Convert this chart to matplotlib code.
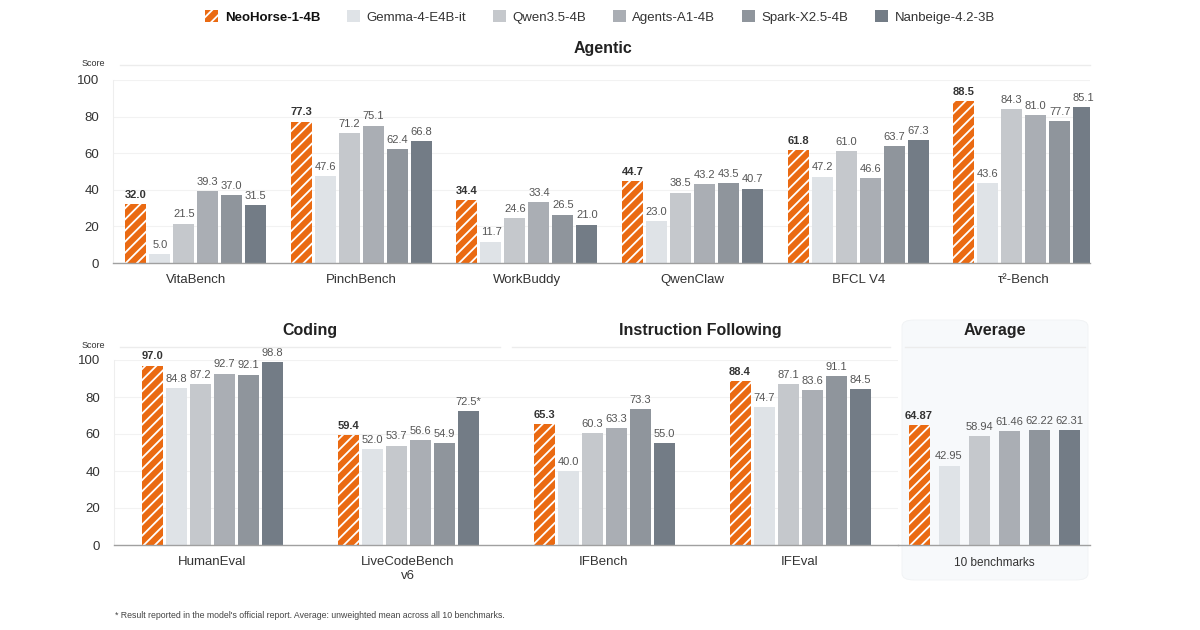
import matplotlib
matplotlib.use("Agg")
import matplotlib.pyplot as plt
from matplotlib.patches import Patch, FancyBboxPatch
from matplotlib.lines import Line2D
import numpy as np

plt.rcParams['font.family'] = ['Liberation Sans', 'DejaVu Sans']
plt.rcParams['hatch.color'] = 'white'
plt.rcParams['hatch.linewidth'] = 1.3

# Modelli e colori
models = ["NeoHorse-1-4B", "Gemma-4-E4B-it", "Qwen3.5-4B", "Agents-A1-4B", "Spark-X2.5-4B", "Nanbeige-4.2-3B"]
colors = ["#EA6A12", "#dfe3e7", "#c5c8cc", "#aaaeb4", "#8f959c", "#737c86"]

# Agentic
agentic_labels = ["VitaBench", "PinchBench", "WorkBuddy", "QwenClaw", "BFCL V4", "τ²-Bench"]
agentic_scores = [
    [32.0, 77.3, 34.4, 44.7, 61.8, 88.5],
    [5.0, 47.6, 11.7, 23.0, 47.2, 43.6],
    [21.5, 71.2, 24.6, 38.5, 61.0, 84.3],
    [39.3, 75.1, 33.4, 43.2, 46.6, 81.0],
    [37.0, 62.4, 26.5, 43.5, 63.7, 77.7],
    [31.5, 66.8, 21.0, 40.7, 67.3, 85.1],
]

# Coding + Instruction Following
bottom_labels = ["HumanEval", "LiveCodeBench\nv6", "IFBench", "IFEval"]
bottom_scores = [
    [97.0, 59.4, 65.3, 88.4],
    [84.8, 52.0, 40.0, 74.7],
    [87.2, 53.7, 60.3, 87.1],
    [92.7, 56.6, 63.3, 83.6],
    [92.1, 54.9, 73.3, 91.1],
    [98.8, 72.5, 55.0, 84.5],
]
# valori riportati nel report ufficiale (asterisco)
starred = {(5, 1)}

# Media
avg_labels = ["10 benchmarks"]
avg_scores = [64.87, 42.95, 58.94, 61.46, 62.22, 62.31]

W, H = 1200, 630
fig = plt.figure(figsize=(12, 6.3), dpi=100)


def fx(px):
    return px / W


def fy(py):
    return 1 - py / H


def style_axes(ax, show_y=True):
    ax.set_ylim(0, 100)
    for s in ["top", "right"]:
        ax.spines[s].set_visible(False)
    ax.spines["left"].set_color("#eeeeee")
    ax.spines["bottom"].set_color("#a0a0a0")
    ax.spines["bottom"].set_linewidth(1.0)
    ax.set_yticks([0, 20, 40, 60, 80, 100])
    ax.tick_params(axis="y", length=0, labelsize=9.5, labelcolor="#333333", pad=10)
    ax.tick_params(axis="x", length=0, labelsize=9.5, labelcolor="#333333", pad=8)
    ax.grid(axis="y", color="#f2f2f2", linewidth=0.8)
    ax.set_axisbelow(True)
    ax.set_facecolor("none")
    if not show_y:
        ax.spines["left"].set_visible(False)
        ax.set_yticks([])


def draw_groups(ax, labels, scores, slot, width, fmt="%.1f", star=set(), fs=8):
    x = np.arange(len(labels))
    n = len(models)
    for i in range(n):
        pos = x + (i - (n - 1) / 2) * slot
        vals = scores[i]
        if i == 0:
            bars = ax.bar(pos, vals, width, color=colors[i], edgecolor="white",
                          linewidth=0, hatch="///", zorder=2)
        else:
            bars = ax.bar(pos, vals, width, color=colors[i], linewidth=0, zorder=2)
        for j, b in enumerate(bars):
            v = vals[j]
            txt = fmt % v
            if (i, j) in star:
                txt += "*"
            ax.annotate(txt, (b.get_x() + b.get_width() / 2, v), xytext=(0, 3),
                        textcoords="offset points", ha="center", va="bottom",
                        fontsize=fs, color="#333333" if i == 0 else "#555555",
                        fontweight="bold" if i == 0 else "normal", clip_on=False)
    ax.set_xticks(x)
    ax.set_xticklabels(labels)


# sfondo del pannello Media (disegnato sotto gli assi)
bg = FancyBboxPatch((fx(902), fy(580)), fx(186), (580 - 320) / H,
                    boxstyle="round,pad=0,rounding_size=0.01",
                    transform=fig.transFigure, facecolor="#f7f9fb",
                    edgecolor="#f0f2f4", linewidth=0.6, zorder=-5)
fig.patches.append(bg)

# --- pannello Agentic ---
ax1 = fig.add_axes([fx(113), fy(263), fx(977), 183 / H])
style_axes(ax1)
draw_groups(ax1, agentic_labels, agentic_scores, 24 / 165.6, 21 / 165.6)
ax1.set_xlim(-0.5, 5.4)

# --- pannello Coding / IF ---
ax2 = fig.add_axes([fx(114), fy(545), fx(784), 185 / H])
style_axes(ax2)
draw_groups(ax2, bottom_labels, bottom_scores, 24 / 196, 21 / 196, star=starred)
ax2.set_xlim(-0.5, 3.5)

# --- pannello Media ---
ax3 = fig.add_axes([fx(898), fy(545), fx(192), 185 / H])
ax3.set_zorder(2)
style_axes(ax3, show_y=False)
draw_groups(ax3, avg_labels, [[v] for v in avg_scores], 30 / 192, 21 / 192, fmt="%.2f", fs=8)
ax3.set_xlim(-0.5, 0.5)
ax3.tick_params(axis="x", labelsize=8.5, pad=9)

# Titoli di sezione e linee
def section(title, cx, cy, x0, x1, ly):
    fig.text(fx(cx), fy(cy), title, ha="center", va="center", fontsize=11.5,
             fontweight="bold", color="#222222")
    fig.add_artist(Line2D([fx(x0), fx(x1)], [fy(ly), fy(ly)], color="#ececec",
                          linewidth=1, transform=fig.transFigure))

section("Agentic", 603, 49, 120, 1090, 65)
section("Coding", 310, 331, 120, 500, 347)
section("Instruction Following", 700, 331, 512, 890, 347)
section("Average", 995, 331, 905, 1085, 347)

fig.text(fx(93), fy(63), "Score", ha="center", va="center", fontsize=6.5, color="#333333")
fig.text(fx(93), fy(345), "Score", ha="center", va="center", fontsize=6.5, color="#333333")

# Legenda
handles = []
for i, m in enumerate(models):
    if i == 0:
        handles.append(Patch(facecolor=colors[i], edgecolor="white", linewidth=0, hatch="///", label=m))
    else:
        handles.append(Patch(facecolor=colors[i], linewidth=0, label=m))
leg = fig.legend(handles=handles, loc="center", bbox_to_anchor=(0.5, fy(17)), ncol=6,
                 frameon=False, fontsize=9.5, handlelength=1.0, handleheight=1.0,
                 handletextpad=0.5, columnspacing=2.0)
for t in leg.get_texts():
    t.set_color("#333333")
leg.get_texts()[0].set_fontweight("bold")
leg.get_texts()[0].set_color("#111111")

fig.text(fx(115), fy(616), "* Result reported in the model's official report. Average: unweighted mean across all 10 benchmarks.",
         ha="left", va="center", fontsize=6.3, color="#444444")

fig.savefig("out.png", dpi=100, facecolor="white")
